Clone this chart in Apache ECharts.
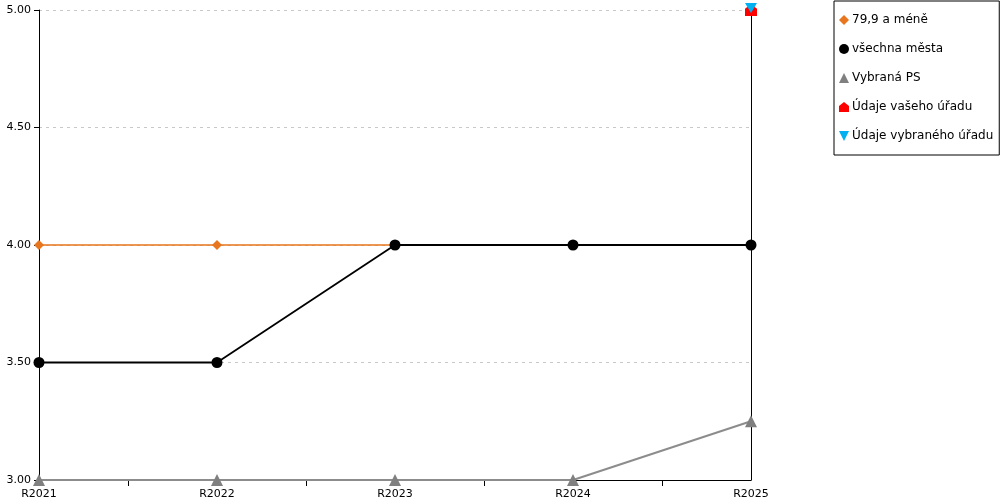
<!DOCTYPE html>
<html><head><meta charset="utf-8">
<script src="https://cdn.jsdelivr.net/npm/echarts@6/dist/echarts.min.js"></script>
<style>html,body{margin:0;padding:0;background:#fff}#c{width:1000px;height:500px}</style>
</head><body><div id="c"></div>
<script>
var categories = ['R2021','R2022','R2023','R2024','R2025'];
var seriesNames = ['79,9 a méně','všechna města','Vybraná PS','Údaje vašeho úřadu','Údaje vybraného úřadu'];
var vals799 = [4, 4, 4, 4, 4];
var valsAll = [3.5, 3.5, 4, 4, 4];
var valsPS = [3, 3, 3, 3, 3.25];
var valsVas = [null, null, null, null, 5];
var valsVyb = [null, null, null, null, 5];
var yTicks = [3, 3.5, 4, 4.5, 5];

var font = 'DejaVu Sans';
var house = 'path://M0,4 L5,0 L10,4 L10,10 L0,10 Z';
var invTri = 'path://M0,0 L10,0 L5,10 Z';
var chart = echarts.init(document.getElementById('c'), null, {renderer:'canvas'});
chart.setOption({
  animation:false,
  textStyle:{fontFamily:font},
  grid:{left:39, right:249, top:10, bottom:20, containLabel:false},
  legend:{
    orient:'vertical', left:834, top:1,
    padding:[13,6,13,5], itemGap:17, itemWidth:10, itemHeight:10,
    borderColor:'#000', borderWidth:1, backgroundColor:'#fff',
    textStyle:{fontFamily:font, fontSize:12, color:'#000', padding:[0,0,0,-2]},
    data:[
      {name:seriesNames[0], icon:'diamond'},
      {name:seriesNames[1], icon:'circle'},
      {name:seriesNames[2], icon:'triangle'},
      {name:seriesNames[3], icon:house},
      {name:seriesNames[4], icon:invTri}
    ]
  },
  xAxis:[{
    type:'category', data:categories, boundaryGap:false,
    axisLine:{lineStyle:{color:'#000', width:1}},
    axisTick:{show:false},
    axisLabel:{fontFamily:font, fontSize:11, color:'#000', margin:9},
    splitLine:{show:false}
  },{
    type:'value', min:0, max:4, interval:1, position:'bottom',
    axisLine:{show:false}, axisLabel:{show:false}, splitLine:{show:false},
    axisTick:{show:false},
    minorTick:{show:true, splitNumber:2, length:6, lineStyle:{color:'#000', width:1}},
    minorSplitLine:{show:false}
  }],
  yAxis:[{
    type:'value', min:3, max:5, interval:0.5,
    axisLine:{show:true, lineStyle:{color:'#000', width:1}},
    axisTick:{show:true, length:5, lineStyle:{color:'#000'}},
    axisLabel:{fontFamily:font, fontSize:11, color:'#000', margin:8,
      formatter:function(v){return v.toFixed(2);}},
    splitLine:{show:true, lineStyle:{color:'#c8c8c8', type:[3,4], width:1}}
  },{
    type:'value', min:3, max:5, interval:0.5, position:'right',
    axisLine:{show:true, lineStyle:{color:'#000', width:1}},
    axisTick:{show:false}, axisLabel:{show:false}, splitLine:{show:false}
  }],
  series:[
    {name:seriesNames[0], type:'line', data:vals799, symbol:'diamond', symbolSize:10,
     itemStyle:{color:'#E8761E'}, lineStyle:{color:'#E8761E', width:1.5}, z:2},
    {name:seriesNames[1], type:'line', data:valsAll, symbol:'circle', symbolSize:11,
     itemStyle:{color:'#000'}, lineStyle:{color:'#000', width:1.8}, z:3},
    {name:seriesNames[2], type:'line', data:valsPS, symbol:'triangle', symbolSize:12,
     itemStyle:{color:'#808080'}, lineStyle:{color:'#8c8c8c', width:2}, z:4},
    {name:seriesNames[3], type:'line', data:valsVas, symbol:house, symbolSize:12,
     itemStyle:{color:'#FF0000'}, lineStyle:{color:'#FF0000', width:1.5}, z:5, clip:false},
    {name:seriesNames[4], type:'line', data:valsVyb, symbol:invTri, symbolSize:[12,10], symbolOffset:[0,-2],
     itemStyle:{color:'#00B0F0'}, lineStyle:{color:'#00B0F0', width:1.5}, z:6, clip:false}
  ]
});
</script></body></html>
